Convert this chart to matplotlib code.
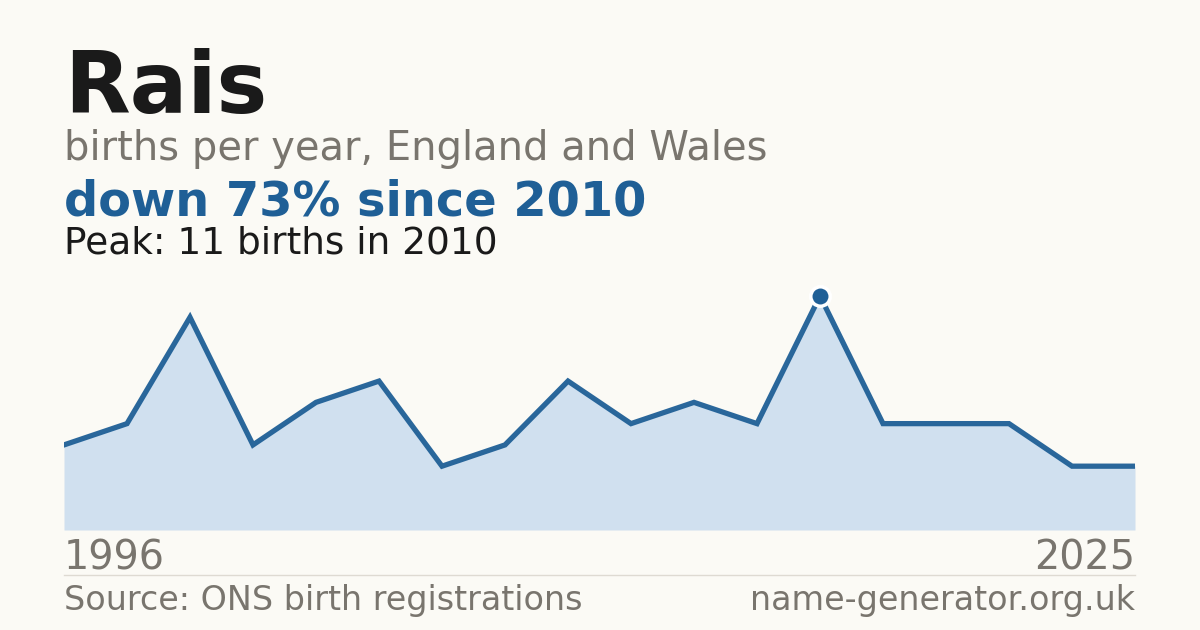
import matplotlib
matplotlib.use("Agg")
import matplotlib.pyplot as plt

plt.rcParams['font.family'] = ['DejaVu Sans']

# data (years without births are not shown, x axis is by position)
years = [1996, 1997, 1998, 1999, 2000, 2002, 2003, 2004, 2006, 2007, 2008, 2009,
         2010, 2012, 2015, 2018, 2021, 2025]
births = [4, 5, 10, 4, 6, 7, 3, 4, 7, 5, 6, 5, 11, 5, 5, 5, 3, 3]

BG = '#fbfaf5'
BLUE = '#1f5f96'
FILL = '#d0e0ef'
GREY = '#79756e'
DARK = '#1a1a1a'

W, H = 1200, 630
fig = plt.figure(figsize=(12, 6.3), dpi=100, facecolor=BG)

def px(x, y):
    return x / W, 1 - y / H

# plot area in pixels: x 64..1135, value 0 at y=530, peak at y=296
ax = fig.add_axes([64 / W, 1 - 530 / H, (1135 - 64) / W, (530 - 296) / H])
ax.set_facecolor('none')
xs = list(range(len(years)))
ax.fill_between(xs, births, 0, color=FILL, lw=0)
ax.plot(xs, births, color=BLUE, lw=3.8, solid_joinstyle='miter', alpha=0.95)

peak_i = births.index(max(births))
ax.plot(xs[peak_i], births[peak_i], 'o', ms=14, color=BLUE, mec='white', mew=2.5,
        clip_on=False, zorder=5)
ax.set_xlim(0, len(years) - 1)
ax.set_ylim(0, max(births))
ax.axis('off')

# headings
fig.text(*px(64, 113), 'Rais', fontsize=61.5, fontweight='bold', color=DARK, va='baseline')
fig.text(*px(64, 160), 'births per year, England and Wales', fontsize=28.8, color=GREY, va='baseline')
drop = round((births[peak_i] - births[-1]) / births[peak_i] * 100)
fig.text(*px(64, 215), f'down {drop}% since {years[peak_i]}', fontsize=34.5, fontweight='bold',
         color=BLUE, va='baseline')
fig.text(*px(64, 254), f'Peak: {births[peak_i]} births in {years[peak_i]}', fontsize=27,
         color=DARK, va='baseline')

# year labels
fig.text(*px(64, 570), str(years[0]), fontsize=28.6, color=GREY, va='baseline')
fig.text(*px(1135, 570), str(years[-1]), fontsize=28.6, color=GREY, va='baseline', ha='right')

# separator + footer
fig.add_artist(plt.Line2D([64 / W, 1135 / W], [1 - 574.5 / H] * 2, color='#dedad2', lw=1))
fig.text(*px(64, 610), 'Source: ONS birth registrations', fontsize=24, color=GREY, va='baseline')
fig.text(*px(1135, 610), 'name-generator.org.uk', fontsize=24, color=GREY, va='baseline', ha='right')

fig.savefig('out.png', dpi=100, facecolor=BG)
